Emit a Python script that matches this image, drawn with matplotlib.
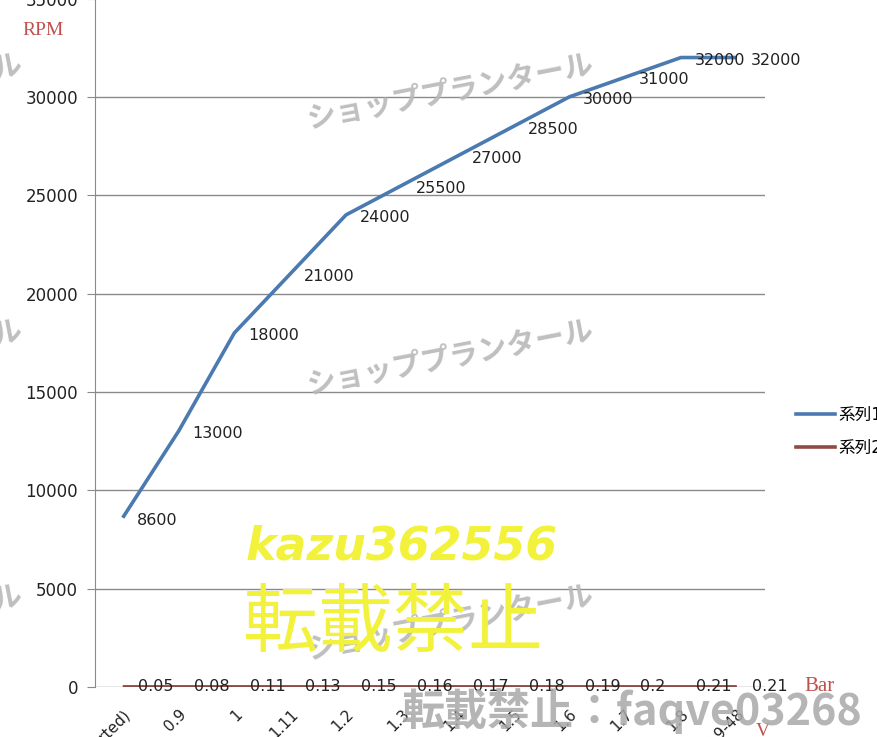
import matplotlib.pyplot as plt
from matplotlib.lines import Line2D

plt.rcParams['font.family'] = ['DejaVu Sans', 'Noto Sans CJK JP']

categories = ['(started)', '0.9', '1', '1.11', '1.2', '1.3', '1.4', '1.5',
              '1.6', '1.7', '1.8', '1.9-48']
rpm = [8600, 13000, 18000, 21000, 24000, 25500, 27000, 28500,
       30000, 31000, 32000, 32000]
bar = [0.05, 0.08, 0.11, 0.13, 0.15, 0.16, 0.17, 0.18, 0.19, 0.2, 0.21, 0.21]
series_names = ['系列1', '系列2']

BLUE = '#4a7ab0'
RED = '#8e4a45'
GRID = '#8a8a8a'

fig = plt.figure(figsize=(8.78, 7.37), dpi=100)
ax = fig.add_axes([0.108, 0.068, 0.763, 0.934])

x = list(range(len(categories)))
ax.plot(x, rpm, color=BLUE, lw=2.6, solid_capstyle='butt', zorder=3)
ax.plot(x, bar, color=RED, lw=2.6, solid_capstyle='butt', zorder=3)

for xi, v in zip(x, rpm):
    ax.annotate(f'{v}', (xi, v), xytext=(10, -2), textcoords='offset points',
                ha='left', va='center', fontsize=11.5, color='#222222', zorder=4)
for xi, v in zip(x, bar):
    ax.annotate(f'{v:g}', (xi, v), xytext=(11, 0), textcoords='offset points',
                ha='left', va='center', fontsize=11.5, color='#222222', zorder=4)

ax.set_xlim(-0.5, len(categories) - 0.5)
ax.set_ylim(0, 35000)
ax.set_yticks(range(0, 35001, 5000))
ax.set_xticks(x)
ax.set_xticklabels(categories, rotation=45, ha='right', rotation_mode='anchor',
                   fontsize=11, color='#222222')
ax.tick_params(axis='x', length=0, pad=14)
ax.tick_params(axis='y', length=6, color=GRID, labelsize=12,
               labelcolor='#222222', pad=6)
ax.yaxis.grid(True, color=GRID, lw=1)
ax.set_axisbelow(True)
for s in ['top', 'right', 'bottom']:
    ax.spines[s].set_visible(False)
ax.spines['left'].set_color(GRID)

# axis titles
fig.text(0.025, 0.958, 'RPM', color='#c0504d', fontsize=14,
         family='Liberation Serif', va='center')
fig.text(0.916, 0.068, 'Bar', color='#c0504d', fontsize=15,
         family='Liberation Serif', va='center')
fig.text(0.861, 0.008, 'V', color='#c0504d', fontsize=14,
         family='Liberation Serif', va='center')

# legend
handles = [Line2D([], [], color=BLUE, lw=2.6), Line2D([], [], color=RED, lw=2.6)]
fig.legend(handles, series_names, loc='center left',
           bbox_to_anchor=(0.89, 0.415), frameon=False, fontsize=12,
           handlelength=2.3, handletextpad=0.2, labelspacing=0.9)

# watermarks
for yc in [0.875, 0.515, 0.155]:
    for xc in [-0.137, 0.513, 1.163]:
        fig.text(xc, yc, 'ショッププランタール', color='#b8b8b8', fontsize=21,
                 family='Noto Sans CJK JP', weight='bold', rotation=11,
                 ha='center', va='center', alpha=0.9, zorder=5)
fig.text(0.458, 0.258, 'kazu362556', color='#f2f23c', fontsize=33,
         style='italic', weight='bold', ha='center', va='center', zorder=6)
fig.text(0.448, 0.152, '転載禁止', color='#f2f23c', fontsize=54,
         family='Noto Sans CJK JP', ha='center', va='center', zorder=6)
fig.text(0.72, 0.035, '転載禁止：faqve03268', color='#a8a8a8', fontsize=31,
         family='Noto Sans CJK JP', weight='bold', ha='center', va='center',
         alpha=0.85, zorder=6)

fig.savefig('out.png', dpi=100, facecolor='white')
